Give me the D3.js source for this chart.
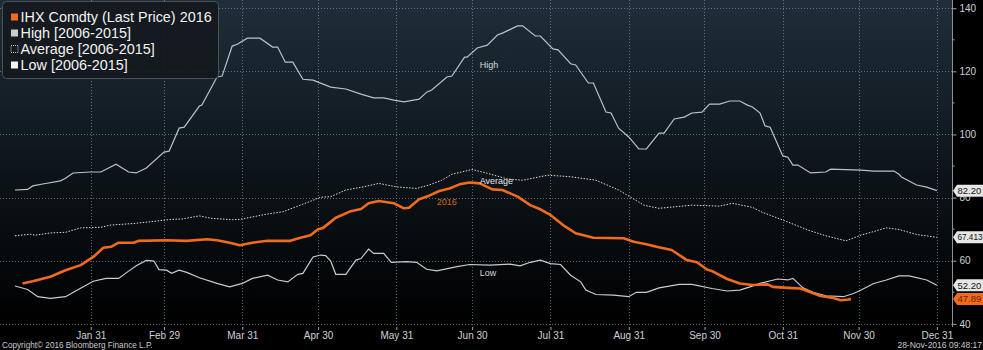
<!DOCTYPE html>
<html>
<head>
<meta charset="utf-8">
<script src="https://cdn.jsdelivr.net/npm/d3@7"></script>
<style>
  html, body { margin: 0; padding: 0; background: #000; }
  svg { display: block; font-family: "Liberation Sans", Arial, sans-serif; }
</style>
</head>
<body>
<svg id="chart" width="983" height="350"></svg>
<script>
// Seasonal ranges for IHX Comdty: [day of year, price]
const highSeries = [
  [1,82.4],[6,82.6],[8,83.7],[12,84.3],[19,85.3],[21,86.1],[24,87.8],[31,88.1],[35,88.1],
  [41,90.6],[46,88.1],[49,87.8],[53,89.4],[60,94.4],[62,94.7],[66,102.0],[68,102.3],
  [74,109.0],[75,109.3],[81,118.2],[83,118.5],[87,128.0],[89,128.6],[93,130.5],[98,130.5],
  [103,127.7],[105,127.7],[108,122.9],[111,122.9],[115,117.5],[119,117.2],[126,115.0],
  [132,114.4],[138,112.8],[143,111.6],[147,111.6],[151,110.9],[155,110.3],[161,111.2],
  [164,113.4],[166,114.1],[172,118.2],[174,118.5],[179,124.5],[180,124.5],[184,127.4],
  [188,128.3],[192,131.5],[194,132.1],[200,134.4],[202,134.4],[207,131.2],[209,131.2],
  [214,127.1],[216,126.8],[221,122.4],[223,122.0],[228,116.3],[230,116.3],[235,107.1],
  [237,106.8],[240,102.0],[244,99.2],[248,95.4],[251,95.4],[256,100.4],[258,100.4],
  [262,104.9],[266,105.5],[269,106.8],[273,107.1],[276,109.6],[280,109.6],[284,110.6],
  [288,110.6],[291,109.3],[293,108.7],[296,106.8],[298,102.7],[300,102.3],[305,93.2],
  [307,92.8],[309,90.3],[311,90.3],[316,87.8],[322,88.1],[324,89.0],[336,88.7],[341,88.4],
  [349,88.4],[351,87.4],[352,86.5],[358,84.0],[362,83.3],[366,82.2]
];
const averageSeries = [
  [1,67.9],[7,68.4],[9,68.1],[15,68.8],[21,69.0],[27,70.4],[35,70.6],[39,71.3],[48,71.8],
  [54,72.3],[63,73.1],[67,73.2],[74,74.2],[79,73.4],[87,73.0],[90,73.1],[101,74.8],
  [107,75.5],[114,77.6],[122,80.1],[126,80.3],[132,82.4],[139,83.4],[145,84.5],[152,83.4],
  [160,82.9],[165,84.0],[170,85.5],[174,87.4],[182,88.9],[188,87.7],[196,85.9],[202,85.5],
  [212,87.1],[221,86.6],[231,85.5],[240,82.4],[250,77.6],[256,76.6],[269,77.6],[280,77.3],
  [285,78.2],[293,76.9],[297,75.3],[305,72.9],[315,69.7],[322,67.9],[330,66.3],[336,68.1],
  [346,70.4],[351,69.9],[358,68.3],[366,67.413]
];
const lowSeries = [
  [1,52.0],[6,50.9],[10,48.6],[15,48.1],[21,48.6],[25,50.4],[32,53.5],[37,54.4],[42,54.4],
  [46,56.7],[49,58.4],[53,60.1],[56,59.9],[58,57.2],[61,57.0],[63,56.0],[66,57.0],[69,56.3],
  [74,54.6],[81,52.8],[86,51.7],[91,52.8],[95,54.4],[101,55.4],[105,53.9],[109,53.3],
  [113,55.7],[115,56.0],[119,61.2],[122,61.8],[124,61.6],[126,59.9],[128,55.7],[132,55.7],
  [136,60.2],[138,60.7],[141,63.7],[143,62.3],[147,62.3],[150,59.5],[156,59.7],[160,59.5],
  [164,57.3],[168,56.8],[176,58.1],[181,58.8],[189,58.6],[197,58.9],[201,58.4],[205,59.5],
  [209,60.2],[213,59.1],[217,58.8],[221,55.4],[225,53.3],[227,50.7],[231,49.3],[238,49.1],
  [244,48.6],[247,50.0],[251,50.0],[256,51.4],[264,52.5],[269,52.5],[277,51.2],[283,50.4],
  [288,50.7],[292,51.7],[296,52.8],[303,54.2],[307,53.9],[309,54.4],[313,51.4],[317,50.0],
  [322,48.9],[329,48.6],[333,49.6],[336,50.7],[341,52.8],[346,53.9],[351,55.2],[355,55.2],
  [362,53.9],[366,52.2]
];
const series2016 = [
  [4,52.8],[8,53.5],[15,54.9],[21,57.0],[27,58.6],[32,61.2],[36,64.1],[39,64.4],[42,65.7],
  [48,65.7],[50,66.3],[61,66.5],[69,66.3],[77,66.8],[81,66.5],[86,65.7],[90,64.9],[95,65.7],
  [101,66.3],[110,66.3],[114,67.3],[118,68.1],[121,70.0],[123,70.4],[126,72.3],[128,73.6],
  [134,75.7],[138,76.4],[141,78.2],[145,78.9],[151,78.2],[155,76.6],[157,76.8],[161,79.5],
  [165,80.6],[169,82.1],[173,82.9],[177,84.2],[181,84.8],[185,84.5],[190,82.6],[194,82.4],
  [200,80.3],[205,77.6],[209,76.3],[213,74.5],[218,71.3],[223,68.7],[230,67.3],[242,67.1],
  [246,66.0],[251,65.2],[255,64.4],[261,63.4],[267,60.2],[271,59.5],[275,57.2],[277,56.7],
  [283,54.2],[288,52.8],[293,52.3],[299,52.5],[301,51.7],[307,51.4],[312,51.2],[316,50.0],
  [320,48.8],[325,48.2],[328,47.5],[331,47.7],[332,47.89]
];

const yTicks = [40, 60, 80, 100, 120, 140];
const yMinorTicks = [50, 70, 90, 110, 130];
const monthEnds = ["2016-01-31","2016-02-29","2016-03-31","2016-04-30","2016-05-31","2016-06-30",
                   "2016-07-31","2016-08-31","2016-09-30","2016-10-31","2016-11-30","2016-12-31"];
const legendItems = [
  { label: "IHX Comdty (Last Price) 2016", kind: "orange" },
  { label: "High [2006-2015]", kind: "gray" },
  { label: "Average [2006-2015]", kind: "dotted" },
  { label: "Low [2006-2015]", kind: "white" }
];
const lastValues = [
  { value: 82.20, text: "82.20", fill: "#e6e6e6", color: "#111" },
  { value: 67.413, text: "67.413", fill: "#e6e6e6", color: "#111" },
  { value: 52.20, text: "52.20", fill: "#e6e6e6", color: "#111" },
  { value: 47.89, text: "47.89", fill: "#f26b1d", color: "#6b2200" }
];

const svg = d3.select("#chart");
const W = 983, H = 350;
const plotLeft = 0, plotRight = 952, plotTop = 0, plotBottom = 327;

const parse = d3.timeParse("%Y-%m-%d");
const dayToDate = d => d3.timeDay.offset(new Date(2016, 0, 1), d - 1);

const x = d3.scaleTime()
  .domain([new Date(2016, 0, 1), new Date(2017, 0, 6)])
  .range([15, plotRight]);
const y = d3.scaleLinear().domain([39, 142.6]).range([plotBottom, plotTop]);

// background
const defs = svg.append("defs");
const grad = defs.append("linearGradient").attr("id", "bg")
  .attr("x1", 0).attr("y1", 0).attr("x2", 0).attr("y2", 1);
grad.append("stop").attr("offset", "0%").attr("stop-color", "#1f2e3a");
grad.append("stop").attr("offset", "55%").attr("stop-color", "#0c1318");
grad.append("stop").attr("offset", "100%").attr("stop-color", "#000000");

svg.append("rect").attr("width", W).attr("height", H).attr("fill", "#000");
svg.append("rect").attr("x", 0).attr("y", 0)
  .attr("width", plotRight).attr("height", plotBottom).attr("fill", "url(#bg)");

// grid
const grid = svg.append("g").attr("stroke", "#9aa3aa").attr("stroke-opacity", 0.6)
  .attr("stroke-width", 1).attr("stroke-dasharray", "1,2");
grid.selectAll(".hg").data(yTicks).join("line")
  .attr("x1", plotLeft).attr("x2", plotRight)
  .attr("y1", d => Math.round(y(d)) + 0.5).attr("y2", d => Math.round(y(d)) + 0.5);
grid.selectAll(".vg").data(monthEnds).join("line")
  .attr("x1", d => Math.round(x(parse(d))) + 0.5).attr("x2", d => Math.round(x(parse(d))) + 0.5)
  .attr("y1", plotTop).attr("y2", plotBottom);

// series lines
const line = d3.line().x(d => x(dayToDate(d[0]))).y(d => y(d[1]));

svg.append("path").datum(highSeries).attr("d", line)
  .attr("fill", "none").attr("stroke", "#b9c2c9").attr("stroke-width", 1.2);
svg.append("path").datum(averageSeries).attr("d", line)
  .attr("fill", "none").attr("stroke", "#d8dcdf").attr("stroke-width", 1)
  .attr("stroke-dasharray", "1.5,1.5");
svg.append("path").datum(lowSeries).attr("d", line)
  .attr("fill", "none").attr("stroke", "#c9cbcd").attr("stroke-width", 1.2);
svg.append("path").datum(series2016).attr("d", line)
  .attr("fill", "none").attr("stroke", "#f26b1d").attr("stroke-width", 2.6)
  .attr("stroke-linejoin", "round");

// in-chart series labels
const inLabels = [
  { text: "High", day: 185, value: 122, color: "#d6d9dc" },
  { text: "Average", day: 185, value: 85.4, color: "#e6e8ea" },
  { text: "2016", day: 168, value: 78.8, color: "#d8641f" },
  { text: "Low", day: 185, value: 56.3, color: "#d6d9dc" }
];
svg.append("g").selectAll("text").data(inLabels).join("text")
  .attr("x", d => x(dayToDate(d.day))).attr("y", d => y(d.value))
  .attr("dy", "0.35em").attr("font-size", 9).attr("fill", d => d.color)
  .text(d => d.text);

// right axis
const yAxis = d3.axisRight(y).tickValues(yTicks).tickSize(4).tickPadding(3);
const ya = svg.append("g").attr("transform", `translate(${plotRight + 0.5},0)`).call(yAxis);
ya.select(".domain").attr("stroke", "#8c9297").attr("d", `M0,${plotTop}V${plotBottom}`);
ya.selectAll(".tick line").attr("stroke", "#a0a5a9");
ya.selectAll(".tick text").attr("fill", "#cfd2d4").attr("font-size", 10)
  .attr("font-family", "Liberation Sans, Arial, sans-serif");
ya.append("g").selectAll("line").data(yMinorTicks).join("line")
  .attr("x1", 0).attr("x2", 2).attr("y1", d => y(d)).attr("y2", d => y(d))
  .attr("stroke", "#a0a5a9");

// bottom axis
const xAxis = d3.axisBottom(x).tickValues(monthEnds.map(parse))
  .tickFormat(d3.timeFormat("%b %-d")).tickSize(3).tickPadding(2);
const xa = svg.append("g").attr("transform", `translate(0,${plotBottom})`).call(xAxis);
xa.select(".domain").remove();
xa.selectAll(".tick line").attr("stroke", "#a0a5a9");
xa.selectAll(".tick text").attr("fill", "#cfd2d4").attr("font-size", 10)
  .attr("font-family", "Liberation Sans, Arial, sans-serif");

// last value tags
const tags = svg.append("g").selectAll("g").data(lastValues).join("g")
  .attr("transform", d => `translate(${plotRight + 1},${y(d.value)})`);
tags.append("path")
  .attr("d", "M0,0 L4,-6 L31,-6 L31,6 L4,6 Z")
  .attr("fill", d => d.fill);
tags.append("text").attr("x", 4.5).attr("dy", "0.35em")
  .attr("font-size", d => d.text.length > 5 ? 8.6 : 9.5)
  .attr("textLength", d => d.text.length > 5 ? 25 : null)
  .attr("lengthAdjust", "spacingAndGlyphs")
  .attr("fill", d => d.color).text(d => d.text);

// legend
const lg = svg.append("g");
lg.append("rect").attr("x", 2.5).attr("y", 1.5).attr("width", 216).attr("height", 77)
  .attr("rx", 4).attr("fill", "#14191d").attr("fill-opacity", 0.92)
  .attr("stroke", "#4b5257").attr("stroke-width", 1);
const li = lg.selectAll("g.item").data(legendItems).join("g")
  .attr("transform", (d, i) => `translate(0,${17 + i * 16})`);
li.append("rect").attr("x", 11).attr("y", -3.5).attr("width", 7).attr("height", 7)
  .attr("fill", d => d.kind === "orange" ? "#f26b1d" : d.kind === "gray" ? "#c9cbcd" :
                     d.kind === "white" ? "#f4f4f4" : "none")
  .attr("stroke", d => d.kind === "dotted" ? "#bfc3c6" : "none")
  .attr("stroke-dasharray", d => d.kind === "dotted" ? "1,1" : null);
li.append("text").attr("x", 20.5).attr("dy", "0.36em").attr("font-size", 14.4)
  .attr("fill", "#f2f2f2").text(d => d.label);

// footer
svg.append("text").attr("x", 2).attr("y", 348).attr("font-size", 8.2)
  .attr("fill", "#c9cbcd").text("Copyright© 2016 Bloomberg Finance L.P.");
svg.append("text").attr("x", 982).attr("y", 348).attr("font-size", 8.5)
  .attr("text-anchor", "end").attr("fill", "#c9cbcd").text("28-Nov-2016 09:48:17");
</script>
</body>
</html>
